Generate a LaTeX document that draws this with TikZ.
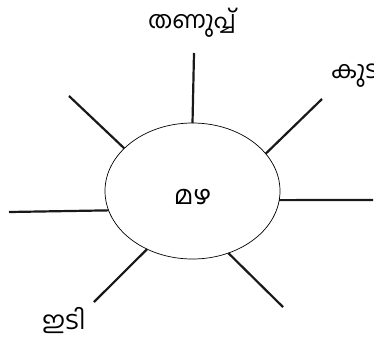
\documentclass[tikz,border=0pt]{standalone}
\usepackage{fontspec}
\newfontfamily\mlfont[Script=Malayalam]{Hind Kochi}
\usetikzlibrary{shapes.geometric, positioning}
\tikzset{
  centre/.style={ellipse, draw=black, line width=0.7pt, inner sep=0pt, outer sep=0pt, minimum width=175pt, minimum height=136pt, font=\mlfont\fontsize{26}{30}\selectfont},
  spoke/.style={line width=2.2pt, draw=black!90},
  word/.style={font=\mlfont\fontsize{24}{28}\selectfont, inner sep=0pt}
}

\begin{document}
\begin{tikzpicture}[x=1pt, y=-1pt]
  \useasboundingbox (0,0) rectangle (374,341);

  % 1. Centro
  \node[centre] (mazha) at (192.5,191) {\raisebox{-6pt}[\height][\depth]{മഴ}};

  % 2. Extremos libres de los rayos
  \coordinate (eTop) at (194,53);
  \coordinate (eUpLeft) at (69,96);
  \coordinate (eLeft) at (9,212);
  \coordinate (eUpRight) at (322,99);
  \coordinate (eRight) at (373,200);
  \coordinate (eLowLeft) at (94,302);
  \coordinate (eLowRight) at (283,307);

  % 3. Rayos
  \draw[spoke] (mazha.north) -- (eTop);
  \draw[spoke] (mazha.148) -- (eUpLeft);
  \draw[spoke] (mazha.193) -- (eLeft);
  \draw[spoke] (mazha.27) -- (eUpRight);
  \draw[spoke] (mazha.354) -- (eRight);
  \draw[spoke] (mazha.232) -- (eLowLeft);
  \draw[spoke] (mazha.300) -- (eLowRight);

  % 4. Palabras
  \node[word] (thanuppu) at (192,23) {തണുപ്പ്};
  \node[word, anchor=west] (kuda) at (331,76) {കുട};
  \node[word, font=\mlfont\fontsize{25}{30}\selectfont] (idi) at (64,320) {ഇടി};
\end{tikzpicture}
\end{document}
